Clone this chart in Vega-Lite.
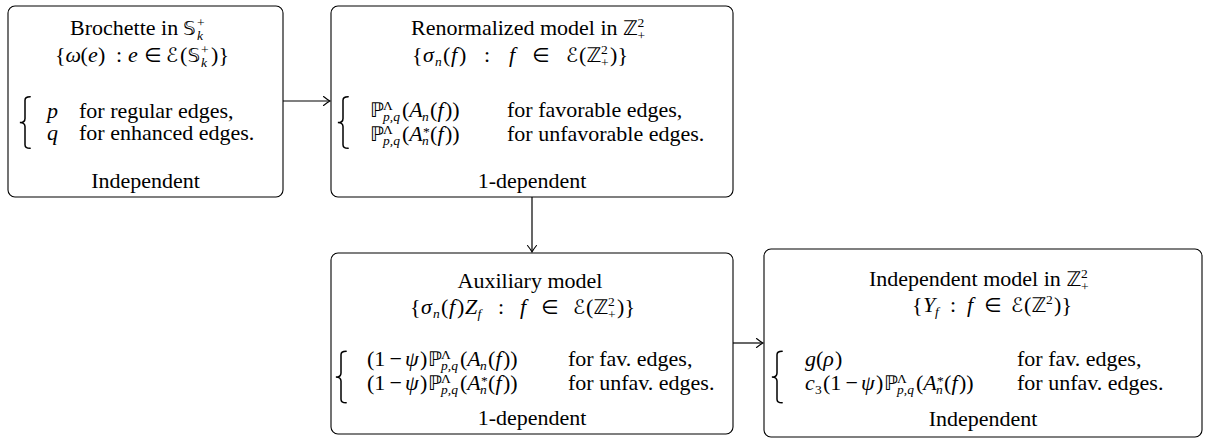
{
  "$schema": "https://vega.github.io/schema/vega-lite/v6.json",
  "width": 1212,
  "height": 438,
  "autosize": {"type": "fit", "contains": "padding"},
  "padding": 0,
  "background": "white",
  "config": {"view": {"stroke": null}},
  "datasets": {
    "boxes": [
      {"name": "Brochette", "x": 8, "x2": 283, "y": 6, "y2": 197},
      {"name": "Renormalized", "x": 331, "x2": 733, "y": 6, "y2": 197},
      {"name": "Auxiliary", "x": 331, "x2": 733, "y": 253, "y2": 434},
      {"name": "Independent", "x": 764, "x2": 1202, "y": 249, "y2": 437}
    ],
    "arrows": [
      {"from": "Brochette", "to": "Renormalized", "x": 283, "y": 101, "x2": 329, "y2": 101},
      {"from": "Renormalized", "to": "Auxiliary", "x": 532, "y": 197, "x2": 532, "y2": 251},
      {"from": "Auxiliary", "to": "Independent", "x": 733, "y": 343, "x2": 762, "y2": 343}
    ],
    "heads": [
      {"to": "Renormalized", "x": 330, "y": 101, "d": "h"},
      {"to": "Auxiliary", "x": 532, "y": 252, "d": "v"},
      {"to": "Independent", "x": 763, "y": 343, "d": "h"}
    ],
    "braces": [
      {"box": "Brochette", "x": 25, "y": 122.5},
      {"box": "Renormalized", "x": 343, "y": 122.5},
      {"box": "Auxiliary", "x": 341, "y": 377},
      {"box": "Independent", "x": 777, "y": 377}
    ],
    "texts": [
      {"s": "Brochette in", "x": 70, "y": 35, "k": "rm"},
      {"s": "𝕊", "x": 183, "y": 35, "k": "bb"},
      {"s": "+", "x": 197, "y": 27, "k": "srm"},
      {"s": "k", "x": 197, "y": 40, "k": "sit"},
      {"s": "{", "x": 55, "y": 62, "k": "rm"},
      {"s": "ω", "x": 65.5, "y": 62, "k": "it"},
      {"s": "(", "x": 80.5, "y": 62, "k": "rm"},
      {"s": "e", "x": 88, "y": 62, "k": "it"},
      {"s": ")", "x": 98, "y": 62, "k": "rm"},
      {"s": ":", "x": 116, "y": 62, "k": "rm"},
      {"s": "e", "x": 128, "y": 62, "k": "it"},
      {"s": "∈", "x": 144, "y": 62, "k": "bb"},
      {"s": "ℰ", "x": 166, "y": 62, "k": "bb"},
      {"s": "(", "x": 180, "y": 62, "k": "rm"},
      {"s": "𝕊", "x": 187.5, "y": 62, "k": "bb"},
      {"s": "+", "x": 201, "y": 54, "k": "srm"},
      {"s": "k", "x": 201, "y": 67, "k": "sit"},
      {"s": ")", "x": 211, "y": 62, "k": "rm"},
      {"s": "}", "x": 218.5, "y": 62, "k": "rm"},
      {"s": "p", "x": 47, "y": 118, "k": "it"},
      {"s": "for regular edges,", "x": 79, "y": 118, "k": "rm"},
      {"s": "q", "x": 47, "y": 140, "k": "it"},
      {"s": "for enhanced edges.", "x": 79, "y": 140, "k": "rm"},
      {"s": "Independent", "x": 145.5, "y": 188, "k": "rmc"},

      {"s": "Renormalized model in", "x": 411, "y": 35, "k": "rm"},
      {"s": "ℤ", "x": 623, "y": 35, "k": "bb"},
      {"s": "2", "x": 637.5, "y": 27, "k": "srm"},
      {"s": "+", "x": 637.5, "y": 40, "k": "srm"},
      {"s": "{", "x": 412, "y": 62, "k": "rm"},
      {"s": "σ", "x": 423, "y": 62, "k": "it"},
      {"s": "n", "x": 435, "y": 66, "k": "sit"},
      {"s": "(", "x": 443, "y": 62, "k": "rm"},
      {"s": "f", "x": 451, "y": 62, "k": "it"},
      {"s": ")", "x": 459, "y": 62, "k": "rm"},
      {"s": ":", "x": 484, "y": 62, "k": "rm"},
      {"s": "f", "x": 509, "y": 62, "k": "it"},
      {"s": "∈", "x": 532, "y": 62, "k": "bb"},
      {"s": "ℰ", "x": 566, "y": 62, "k": "bb"},
      {"s": "(", "x": 579, "y": 62, "k": "rm"},
      {"s": "ℤ", "x": 586.5, "y": 62, "k": "bb"},
      {"s": "2", "x": 601, "y": 54, "k": "srm"},
      {"s": "+", "x": 601, "y": 67, "k": "srm"},
      {"s": ")", "x": 610, "y": 62, "k": "rm"},
      {"s": "}", "x": 617.5, "y": 62, "k": "rm"},
      {"s": "ℙ", "x": 370, "y": 117, "k": "bb"},
      {"s": "Λ", "x": 383, "y": 110, "k": "srm"},
      {"s": "p,q", "x": 383, "y": 121, "k": "sit"},
      {"s": "(", "x": 402, "y": 117, "k": "rm"},
      {"s": "A", "x": 409.3, "y": 117, "k": "it"},
      {"s": "n", "x": 422, "y": 121, "k": "sit"},
      {"s": "(", "x": 430, "y": 117, "k": "rm"},
      {"s": "f", "x": 437.5, "y": 117, "k": "it"},
      {"s": "))", "x": 445, "y": 117, "k": "rm"},
      {"s": "for favorable edges,", "x": 507, "y": 117, "k": "rm"},
      {"s": "ℙ", "x": 370, "y": 141, "k": "bb"},
      {"s": "Λ", "x": 383, "y": 134, "k": "srm"},
      {"s": "p,q", "x": 383, "y": 145, "k": "sit"},
      {"s": "(", "x": 402, "y": 141, "k": "rm"},
      {"s": "A", "x": 409.3, "y": 141, "k": "it"},
      {"s": "*", "x": 423, "y": 136, "k": "srm"},
      {"s": "n", "x": 422, "y": 145, "k": "sit"},
      {"s": "(", "x": 430, "y": 141, "k": "rm"},
      {"s": "f", "x": 437.5, "y": 141, "k": "it"},
      {"s": "))", "x": 445, "y": 141, "k": "rm"},
      {"s": "for unfavorable edges.", "x": 507, "y": 141, "k": "rm"},
      {"s": "1-dependent", "x": 532, "y": 188, "k": "rmc"},

      {"s": "Auxiliary model", "x": 530, "y": 288, "k": "rmc"},
      {"s": "{", "x": 410, "y": 314, "k": "rm"},
      {"s": "σ", "x": 421, "y": 314, "k": "it"},
      {"s": "n", "x": 433, "y": 318, "k": "sit"},
      {"s": "(", "x": 441, "y": 314, "k": "rm"},
      {"s": "f", "x": 449, "y": 314, "k": "it"},
      {"s": ")", "x": 457, "y": 314, "k": "rm"},
      {"s": "Z", "x": 465, "y": 314, "k": "it"},
      {"s": "f", "x": 477.5, "y": 318, "k": "sit"},
      {"s": ":", "x": 498, "y": 314, "k": "rm"},
      {"s": "f", "x": 520, "y": 314, "k": "it"},
      {"s": "∈", "x": 541, "y": 314, "k": "bb"},
      {"s": "ℰ", "x": 573, "y": 314, "k": "bb"},
      {"s": "(", "x": 586, "y": 314, "k": "rm"},
      {"s": "ℤ", "x": 593.5, "y": 314, "k": "bb"},
      {"s": "2", "x": 608, "y": 306, "k": "srm"},
      {"s": "+", "x": 608, "y": 319, "k": "srm"},
      {"s": ")", "x": 617, "y": 314, "k": "rm"},
      {"s": "}", "x": 624.5, "y": 314, "k": "rm"},
      {"s": "(1", "x": 367, "y": 366, "k": "rm"},
      {"s": "−", "x": 389.5, "y": 366, "k": "rm"},
      {"s": "ψ", "x": 405, "y": 366, "k": "it"},
      {"s": ")", "x": 420, "y": 366, "k": "rm"},
      {"s": "ℙ", "x": 428, "y": 366, "k": "bb"},
      {"s": "Λ", "x": 441, "y": 359, "k": "srm"},
      {"s": "p,q", "x": 441, "y": 370, "k": "sit"},
      {"s": "(", "x": 460, "y": 366, "k": "rm"},
      {"s": "A", "x": 467.3, "y": 366, "k": "it"},
      {"s": "n", "x": 480, "y": 370, "k": "sit"},
      {"s": "(", "x": 488, "y": 366, "k": "rm"},
      {"s": "f", "x": 495.5, "y": 366, "k": "it"},
      {"s": "))", "x": 503, "y": 366, "k": "rm"},
      {"s": "for fav. edges,", "x": 568, "y": 366, "k": "rm"},
      {"s": "(1", "x": 367, "y": 390, "k": "rm"},
      {"s": "−", "x": 389.5, "y": 390, "k": "rm"},
      {"s": "ψ", "x": 405, "y": 390, "k": "it"},
      {"s": ")", "x": 420, "y": 390, "k": "rm"},
      {"s": "ℙ", "x": 428, "y": 390, "k": "bb"},
      {"s": "Λ", "x": 441, "y": 383, "k": "srm"},
      {"s": "p,q", "x": 441, "y": 394, "k": "sit"},
      {"s": "(", "x": 460, "y": 390, "k": "rm"},
      {"s": "A", "x": 467.3, "y": 390, "k": "it"},
      {"s": "*", "x": 481, "y": 385, "k": "srm"},
      {"s": "n", "x": 480, "y": 394, "k": "sit"},
      {"s": "(", "x": 488, "y": 390, "k": "rm"},
      {"s": "f", "x": 495.5, "y": 390, "k": "it"},
      {"s": "))", "x": 503, "y": 390, "k": "rm"},
      {"s": "for unfav. edges.", "x": 568, "y": 390, "k": "rm"},
      {"s": "1-dependent", "x": 532, "y": 425, "k": "rmc"},

      {"s": "Independent model in", "x": 869, "y": 286, "k": "rm"},
      {"s": "ℤ", "x": 1066.5, "y": 286, "k": "bb"},
      {"s": "2", "x": 1081, "y": 278, "k": "srm"},
      {"s": "+", "x": 1081, "y": 291, "k": "srm"},
      {"s": "{", "x": 912, "y": 312, "k": "rm"},
      {"s": "Y", "x": 923, "y": 312, "k": "it"},
      {"s": "f", "x": 935, "y": 316, "k": "sit"},
      {"s": ":", "x": 950, "y": 312, "k": "rm"},
      {"s": "f", "x": 967, "y": 312, "k": "it"},
      {"s": "∈", "x": 984, "y": 312, "k": "bb"},
      {"s": "ℰ", "x": 1011, "y": 312, "k": "bb"},
      {"s": "(", "x": 1024, "y": 312, "k": "rm"},
      {"s": "ℤ", "x": 1031.5, "y": 312, "k": "bb"},
      {"s": "2", "x": 1046, "y": 304, "k": "srm"},
      {"s": ")", "x": 1054, "y": 312, "k": "rm"},
      {"s": "}", "x": 1061.5, "y": 312, "k": "rm"},
      {"s": "g", "x": 805, "y": 366, "k": "it"},
      {"s": "(", "x": 816, "y": 366, "k": "rm"},
      {"s": "ρ", "x": 823.3, "y": 366, "k": "it"},
      {"s": ")", "x": 835, "y": 366, "k": "rm"},
      {"s": "for fav. edges,", "x": 1017, "y": 366, "k": "rm"},
      {"s": "c", "x": 805, "y": 390, "k": "it"},
      {"s": "3", "x": 815, "y": 394, "k": "srm"},
      {"s": "(1", "x": 823, "y": 390, "k": "rm"},
      {"s": "−", "x": 845.5, "y": 390, "k": "rm"},
      {"s": "ψ", "x": 861, "y": 390, "k": "it"},
      {"s": ")", "x": 876, "y": 390, "k": "rm"},
      {"s": "ℙ", "x": 884, "y": 390, "k": "bb"},
      {"s": "Λ", "x": 897, "y": 383, "k": "srm"},
      {"s": "p,q", "x": 897, "y": 394, "k": "sit"},
      {"s": "(", "x": 916, "y": 390, "k": "rm"},
      {"s": "A", "x": 923.3, "y": 390, "k": "it"},
      {"s": "*", "x": 937, "y": 385, "k": "srm"},
      {"s": "n", "x": 936, "y": 394, "k": "sit"},
      {"s": "(", "x": 944, "y": 390, "k": "rm"},
      {"s": "f", "x": 951.5, "y": 390, "k": "it"},
      {"s": "))", "x": 959, "y": 390, "k": "rm"},
      {"s": "for unfav. edges.", "x": 1017, "y": 390, "k": "rm"},
      {"s": "Independent", "x": 983, "y": 426, "k": "rmc"}
    ]
  },
  "layer": [
    {
      "data": {"name": "boxes"},
      "mark": {"type": "rect", "cornerRadius": 7, "fill": "white", "stroke": "black", "strokeWidth": 1.1},
      "encoding": {
        "x": {"field": "x", "type": "quantitative", "scale": {"domain": [0, 1212], "nice": false, "zero": false}, "axis": null},
        "x2": {"field": "x2"},
        "y": {"field": "y", "type": "quantitative", "scale": {"domain": [0, 438], "nice": false, "zero": false, "reverse": true}, "axis": null},
        "y2": {"field": "y2"}
      }
    },
    {
      "data": {"name": "arrows"},
      "mark": {"type": "rule", "stroke": "black", "strokeWidth": 1.2},
      "encoding": {
        "x": {"field": "x", "type": "quantitative", "axis": null},
        "x2": {"field": "x2"},
        "y": {"field": "y", "type": "quantitative", "axis": null},
        "y2": {"field": "y2"}
      }
    },
    {
      "data": {"name": "heads"},
      "transform": [{"filter": "datum.d === 'h'"}],
      "mark": {"type": "point", "shape": "M -1.3 -0.9 Q -0.5 -0.25 0 0 Q -0.5 0.25 -1.3 0.9", "filled": false, "stroke": "black", "strokeWidth": 1.1, "size": 100, "opacity": 1, "strokeCap": "round"},
      "encoding": {
        "x": {"field": "x", "type": "quantitative", "axis": null},
        "y": {"field": "y", "type": "quantitative", "axis": null}
      }
    },
    {
      "data": {"name": "heads"},
      "transform": [{"filter": "datum.d === 'v'"}],
      "mark": {"type": "point", "shape": "M -1.3 -0.9 Q -0.5 -0.25 0 0 Q -0.5 0.25 -1.3 0.9", "angle": 90, "filled": false, "stroke": "black", "strokeWidth": 1.1, "size": 100, "opacity": 1, "strokeCap": "round"},
      "encoding": {
        "x": {"field": "x", "type": "quantitative", "axis": null},
        "y": {"field": "y", "type": "quantitative", "axis": null}
      }
    },
    {
      "data": {"name": "braces"},
      "mark": {"type": "point", "shape": "M 0.2 -1 C 0.05 -1 0 -0.96 0 -0.86 L 0 -0.16 C 0 -0.06 -0.08 0 -0.2 0 C -0.08 0 0 0.06 0 0.16 L 0 0.86 C 0 0.96 0.05 1 0.2 1", "filled": false, "stroke": "black", "strokeWidth": 1.5, "size": 2650, "opacity": 1, "strokeCap": "round"},
      "encoding": {
        "x": {"field": "x", "type": "quantitative", "axis": null},
        "y": {"field": "y", "type": "quantitative", "axis": null}
      }
    },
    {
      "data": {"name": "texts"},
      "transform": [{"filter": "datum.k === 'rm'"}],
      "mark": {"type": "text", "font": "Liberation Serif, DejaVu Serif, DejaVu Sans", "fontSize": 22, "align": "left", "baseline": "alphabetic", "color": "black"},
      "encoding": {
        "x": {"field": "x", "type": "quantitative", "axis": null},
        "y": {"field": "y", "type": "quantitative", "axis": null},
        "text": {"field": "s"}
      }
    },
    {
      "data": {"name": "texts"},
      "transform": [{"filter": "datum.k === 'rmc'"}],
      "mark": {"type": "text", "font": "Liberation Serif, DejaVu Serif", "fontSize": 22, "align": "center", "baseline": "alphabetic", "color": "black"},
      "encoding": {
        "x": {"field": "x", "type": "quantitative", "axis": null},
        "y": {"field": "y", "type": "quantitative", "axis": null},
        "text": {"field": "s"}
      }
    },
    {
      "data": {"name": "texts"},
      "transform": [{"filter": "datum.k === 'it'"}],
      "mark": {"type": "text", "font": "Liberation Serif, DejaVu Serif", "fontSize": 22, "fontStyle": "italic", "align": "left", "baseline": "alphabetic", "color": "black"},
      "encoding": {
        "x": {"field": "x", "type": "quantitative", "axis": null},
        "y": {"field": "y", "type": "quantitative", "axis": null},
        "text": {"field": "s"}
      }
    },
    {
      "data": {"name": "texts"},
      "transform": [{"filter": "datum.k === 'srm'"}],
      "mark": {"type": "text", "font": "Liberation Serif, DejaVu Serif", "fontSize": 13.5, "align": "left", "baseline": "alphabetic", "color": "black"},
      "encoding": {
        "x": {"field": "x", "type": "quantitative", "axis": null},
        "y": {"field": "y", "type": "quantitative", "axis": null},
        "text": {"field": "s"}
      }
    },
    {
      "data": {"name": "texts"},
      "transform": [{"filter": "datum.k === 'sit'"}],
      "mark": {"type": "text", "font": "Liberation Serif, DejaVu Serif", "fontSize": 13.5, "fontStyle": "italic", "align": "left", "baseline": "alphabetic", "color": "black"},
      "encoding": {
        "x": {"field": "x", "type": "quantitative", "axis": null},
        "y": {"field": "y", "type": "quantitative", "axis": null},
        "text": {"field": "s"}
      }
    },
    {
      "data": {"name": "texts"},
      "transform": [{"filter": "datum.k === 'bb'"}],
      "mark": {"type": "text", "font": "DejaVu Sans, DejaVu Serif", "fontSize": 20, "align": "left", "baseline": "alphabetic", "color": "black"},
      "encoding": {
        "x": {"field": "x", "type": "quantitative", "axis": null},
        "y": {"field": "y", "type": "quantitative", "axis": null},
        "text": {"field": "s"}
      }
    }
  ]
}
